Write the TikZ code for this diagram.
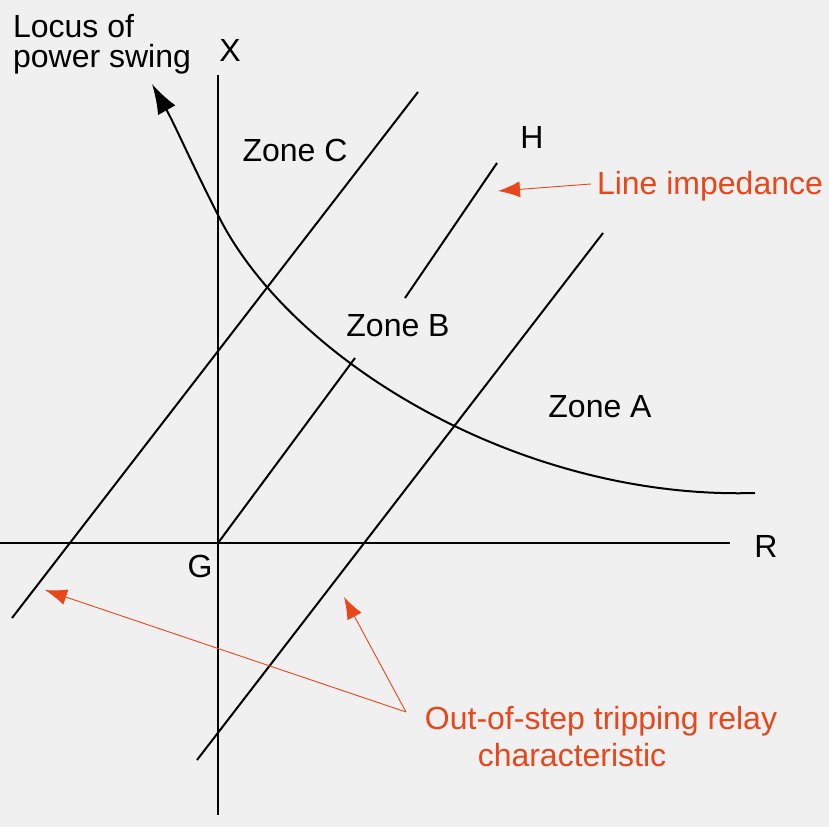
\documentclass[tikz,border=0pt]{standalone}
\usepackage{fontspec}
\setmainfont{Liberation Sans}
\usetikzlibrary{arrows.meta}
\definecolor{rd}{HTML}{E8471C}
\begin{document}
\begin{tikzpicture}[x=1pt,y=-1pt,
  ln/.style={line width=2pt,black},
  lbl/.style={font=\fontsize{32}{36}\selectfont,inner sep=0pt},
  rlbl/.style={lbl,text=rd},
  rarr/.style={rd,line width=0.9pt,-{Latex[length=22pt,width=16pt]}}]
\fill[white!94!black] (0,0) rectangle (829,827);
\useasboundingbox (0,0) rectangle (829,827);
\coordinate (xt) at (218,75); \coordinate (xb) at (218,815);
\coordinate (rl) at (0,543); \coordinate (rr) at (730,543);
\draw[ln] (xt) -- (xb);
\draw[ln] (rl) -- (rr);
\node[lbl] (X) at (230,50) {X};
\node[lbl] (R) at (766,546) {R};
\node[lbl] (G) at (200,566) {G};
\node[lbl] (H) at (532,137) {H};
\coordinate (g) at (218,543); \coordinate (b1) at (355,358);
\coordinate (b2) at (405,298); \coordinate (h) at (497,163);
\draw[ln] (g) -- (b1);
\draw[ln] (b2) -- (h);
\coordinate (l1) at (12,618); \coordinate (l2) at (418,92);
\coordinate (r1) at (197,760); \coordinate (r2) at (603,233);
\draw[ln] (l1) -- (l2);
\draw[ln] (r1) -- (r2);
\coordinate (c0) at (755,493); \coordinate (ct) at (152,84);
\draw[ln,-{Latex[length=30pt,width=20pt]}] (c0) .. controls (520,500) and (290,360) .. (218,215) .. controls (190,160) and (175,125) .. (ct);
\node[lbl,align=left] (loc) at (102,44) {Locus of\\[-6pt]power swing};
\node[lbl] (zc) at (295,150) {Zone C};
\node[lbl] (zb) at (398,326) {Zone B};
\node[lbl] (za) at (600,407) {Zone A};
\node[rlbl] (li) at (710,186) {Line impedance};
\coordinate (lia) at (498,191);
\draw[rarr] (li.west) ++(-6,-2) coordinate (lis) -- (lia);
\node[rlbl] (os) at (601,721) {Out-of-step tripping relay};
\node[rlbl] (os2) at (572,755) {characteristic};
\coordinate (os0) at (406,712);
\coordinate (a1) at (45,590); \coordinate (a2) at (344,597);
\draw[rarr] (os0) -- (a1);
\draw[rarr] (os0) -- (a2);
\end{tikzpicture}
\end{document}
